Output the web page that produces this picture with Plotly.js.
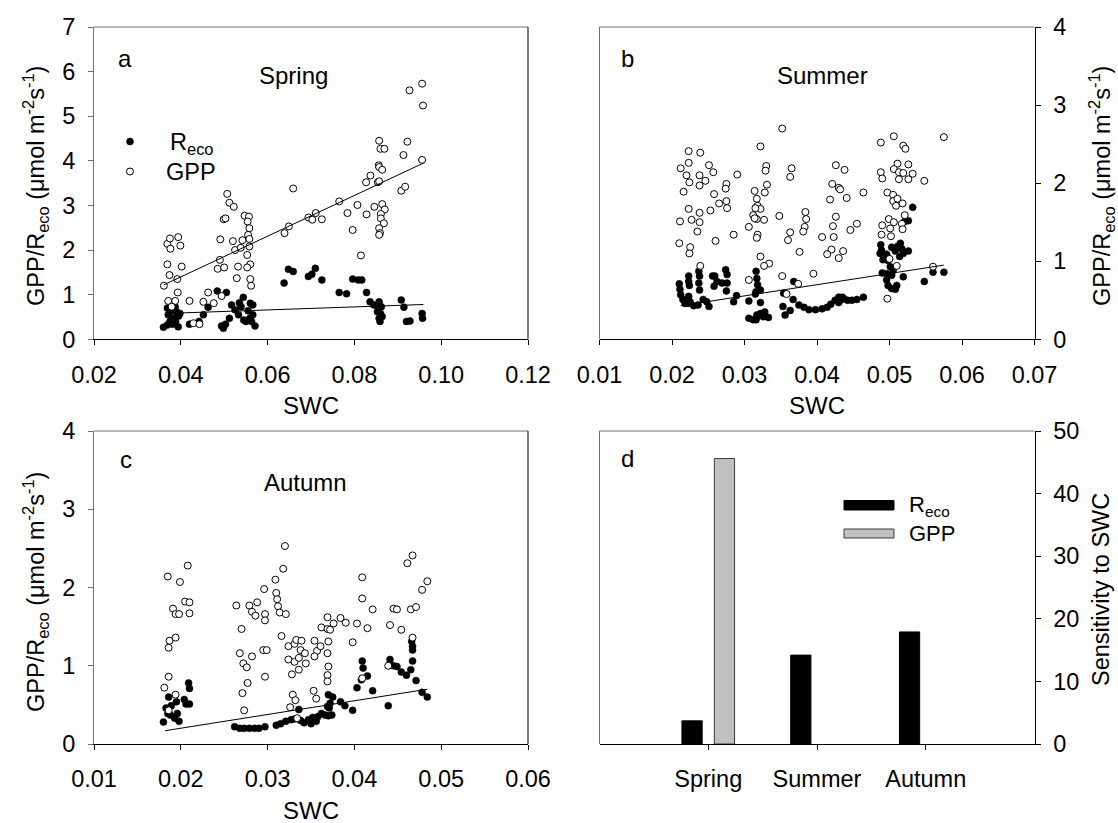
<!DOCTYPE html>
<html>
<head>
<meta charset="utf-8">
<script src="https://cdn.plot.ly/plotly-3.0.1.min.js"></script>
<style>
  html, body { margin: 0; padding: 0; background: #fff; }
  #chart { width: 1118px; height: 823px; }
</style>
</head>
<body>
<div id="chart"></div>
<script>
// ---- Spring (panel a): [SWC, flux] ----
const springGpp = [
  [0.0361,1.20],[0.0369,1.68],[0.0374,1.44],[0.0369,2.14],[0.0375,2.26],[0.0376,2.03],[0.0394,2.29],[0.0399,2.10],
  [0.0392,1.35],[0.0402,1.63],[0.0393,1.05],[0.0371,0.86],[0.0387,0.86],[0.0379,0.73],[0.0420,0.86],[0.0452,0.84],
  [0.0463,1.05],[0.0476,0.81],[0.0429,0.36],[0.0443,0.34],[0.0494,0.97],[0.0490,1.78],[0.0485,1.58],[0.0500,1.61],
  [0.0491,2.24],[0.0507,3.26],[0.0512,3.06],[0.0522,2.97],[0.0499,2.69],[0.0503,2.71],[0.0520,2.20],[0.0525,2.00],
  [0.0532,1.63],[0.0529,1.37],[0.0538,2.05],[0.0542,2.22],[0.0547,2.77],[0.0557,2.75],[0.0554,2.64],[0.0558,2.49],
  [0.0555,2.34],[0.0558,2.25],[0.0558,2.08],[0.0553,1.89],[0.0560,1.68],[0.0553,1.61],[0.0560,1.35],[0.0562,1.20],
  [0.0639,2.38],[0.0649,2.53],[0.0659,3.38],[0.0694,2.73],[0.0703,2.68],[0.0711,2.83],[0.0725,2.69],
  [0.0765,3.09],[0.0784,2.83],[0.0796,2.45],[0.0807,3.01],[0.0815,1.88],[0.0828,2.80],[0.0827,3.52],[0.0837,3.67],
  [0.0846,2.97],[0.0854,3.52],[0.0856,3.90],[0.0857,3.86],[0.0864,3.80],[0.0857,4.45],[0.0860,4.27],[0.0869,4.27],
  [0.0857,3.54],[0.0864,3.03],[0.0870,2.91],[0.0861,2.81],[0.0861,2.71],[0.0868,2.60],[0.0857,2.49],[0.0859,2.38],
  [0.0857,2.34],[0.0908,3.33],[0.0917,3.42],[0.0913,4.13],[0.0922,4.43],[0.0927,5.58],[0.0956,5.73],[0.0958,5.24],
  [0.0956,4.02]
];
const springReco = [
  [0.0360,0.27],[0.0369,0.32],[0.0375,0.40],[0.0383,0.47],[0.0374,0.60],[0.0369,0.70],[0.0379,0.70],[0.0387,0.73],
  [0.0371,0.55],[0.0390,0.62],[0.0398,0.58],[0.0394,0.28],[0.0388,0.40],[0.0381,0.34],[0.0395,0.52],[0.0420,0.34],
  [0.0442,0.40],[0.0452,0.55],[0.0463,0.72],[0.0484,1.08],[0.0505,1.05],[0.0494,0.30],[0.0498,0.25],[0.0503,0.34],
  [0.0512,0.47],[0.0517,0.77],[0.0525,0.66],[0.0533,0.55],[0.0539,0.73],[0.0544,0.94],[0.0535,0.82],[0.0545,0.43],
  [0.0550,0.40],[0.0555,0.64],[0.0560,0.81],[0.0566,0.77],[0.0566,0.55],[0.0563,0.40],[0.0571,0.30],[0.0559,0.47],
  [0.0638,1.26],[0.0648,1.57],[0.0659,1.52],[0.0694,1.41],[0.0702,1.46],[0.0710,1.59],[0.0725,1.33],
  [0.0765,1.05],[0.0782,1.02],[0.0796,1.35],[0.0809,1.33],[0.0817,1.33],[0.0828,1.05],[0.0836,0.84],[0.0845,0.77],
  [0.0857,0.84],[0.0855,0.73],[0.0862,0.73],[0.0853,0.62],[0.0860,0.58],[0.0857,0.47],[0.0864,0.51],[0.0859,0.40],
  [0.0908,0.88],[0.0914,0.72],[0.0920,0.40],[0.0928,0.41],[0.0956,0.58],[0.0957,0.47]
];
const springGppFit = [[0.0361,1.22],[0.0959,3.95]];
const springRecoFit = [[0.0369,0.58],[0.0959,0.78]];

// ---- Summer (panel b) ----
const summerGpp = [
  [0.0223,2.41],[0.0239,2.39],[0.0223,2.26],[0.0212,2.19],[0.0220,2.10],[0.0224,2.01],[0.0216,1.89],[0.0238,2.10],
  [0.0238,1.97],[0.0246,2.03],[0.0251,2.23],[0.0257,2.14],[0.0258,1.86],[0.0275,1.99],[0.0274,1.93],[0.0275,1.77],
  [0.0276,1.68],[0.0265,1.74],[0.0253,1.65],[0.0223,1.67],[0.0211,1.51],[0.0227,1.53],[0.0238,1.62],[0.0238,1.50],
  [0.0235,1.38],[0.0210,1.23],[0.0225,1.18],[0.0224,1.10],[0.0260,1.26],[0.0285,1.34],[0.0290,2.11],[0.0239,0.94],
  [0.0322,2.47],[0.0352,2.70],[0.0330,2.22],[0.0329,2.16],[0.0331,1.98],[0.0328,1.88],[0.0314,1.90],[0.0317,1.80],
  [0.0318,1.71],[0.0322,1.67],[0.0315,1.68],[0.0312,1.59],[0.0317,1.54],[0.0327,1.53],[0.0314,1.55],[0.0306,1.44],
  [0.0318,1.34],[0.0317,1.30],[0.0348,1.58],[0.0365,2.19],[0.0363,2.08],[0.0384,1.63],[0.0385,1.54],[0.0383,1.44],
  [0.0381,1.38],[0.0363,1.37],[0.0360,1.27],[0.0376,1.12],[0.0322,1.06],[0.0334,0.97],[0.0327,0.94],[0.0306,0.76],
  [0.0352,0.81],[0.0374,0.71],[0.0395,0.84],[0.0407,1.31],[0.0358,0.58],[0.0426,2.23],[0.0421,1.99],[0.0430,1.94],
  [0.0418,1.79],[0.0426,1.57],[0.0422,1.45],[0.0423,1.31],[0.0420,1.15],[0.0414,1.09],[0.0430,1.04],
  [0.0438,2.17],[0.0432,1.92],[0.0441,1.81],[0.0436,1.13],[0.0446,1.40],[0.0455,1.48],[0.0464,1.88],[0.0488,2.52],
  [0.0488,2.14],[0.0490,2.06],[0.0506,2.60],[0.0519,2.48],[0.0522,2.44],[0.0511,2.25],[0.0526,2.24],[0.0506,2.18],
  [0.0513,2.14],[0.0519,2.13],[0.0532,2.12],[0.0513,2.05],[0.0526,2.05],[0.0548,2.03],[0.0575,2.59],[0.0497,1.88],
  [0.0505,1.85],[0.0505,1.77],[0.0511,1.80],[0.0509,1.71],[0.0518,1.74],[0.0521,1.59],[0.0499,1.54],[0.0490,1.46],
  [0.0501,1.42],[0.0506,1.50],[0.0517,1.48],[0.0518,1.41],[0.0489,1.34],[0.0502,1.32],[0.0510,0.94],[0.0500,1.03],
  [0.0560,0.93],[0.0497,0.52]
];
const summerReco = [
  [0.0210,0.71],[0.0211,0.64],[0.0212,0.57],[0.0215,0.51],[0.0218,0.46],[0.0222,0.46],[0.0225,0.48],[0.0230,0.43],
  [0.0236,0.44],[0.0223,0.81],[0.0223,0.74],[0.0224,0.69],[0.0223,0.55],[0.0237,0.87],[0.0238,0.81],[0.0237,0.72],
  [0.0238,0.63],[0.0243,0.51],[0.0248,0.48],[0.0251,0.42],[0.0256,0.81],[0.0259,0.81],[0.0258,0.68],[0.0262,0.74],
  [0.0274,0.89],[0.0276,0.83],[0.0276,0.72],[0.0275,0.62],[0.0269,0.72],[0.0285,0.48],[0.0289,0.56],[0.0306,0.49],
  [0.0316,0.87],[0.0317,0.78],[0.0318,0.70],[0.0316,0.61],[0.0322,0.63],[0.0315,0.58],[0.0322,0.47],[0.0306,0.27],
  [0.0312,0.25],[0.0316,0.25],[0.0319,0.30],[0.0322,0.33],[0.0326,0.29],[0.0333,0.28],[0.0317,0.31],[0.0328,0.35],
  [0.0354,0.59],[0.0353,0.42],[0.0356,0.31],[0.0363,0.37],[0.0367,0.51],[0.0368,0.74],[0.0375,0.44],[0.0382,0.41],
  [0.0389,0.38],[0.0398,0.38],[0.0407,0.39],[0.0414,0.41],[0.0419,0.45],[0.0425,0.50],[0.0430,0.54],
  [0.0432,0.50],[0.0437,0.52],[0.0442,0.50],[0.0448,0.50],[0.0455,0.51],[0.0464,0.54],[0.0430,0.47],[0.0435,0.54],
  [0.0488,1.21],[0.0489,1.14],[0.0487,1.10],[0.0491,1.02],[0.0496,1.09],[0.0498,1.01],[0.0490,0.85],[0.0496,0.84],
  [0.0501,0.93],[0.0503,0.82],[0.0496,0.76],[0.0498,0.69],[0.0503,0.65],[0.0508,0.64],[0.0510,0.69],[0.0503,1.18],
  [0.0508,1.13],[0.0511,1.19],[0.0515,1.23],[0.0517,1.16],[0.0519,1.10],[0.0514,1.06],[0.0526,1.13],[0.0521,1.51],
  [0.0526,1.52],[0.0532,1.69],[0.0519,0.80],[0.0505,0.88],[0.0548,0.74],[0.0560,0.86],[0.0575,0.86]
];
const summerRecoFit = [[0.0212,0.43],[0.0575,0.95]];

// ---- Autumn (panel c) ----
const autumnGpp = [
  [0.0185,2.14],[0.0199,2.07],[0.0208,2.28],[0.0191,1.73],[0.0194,1.66],[0.0198,1.66],[0.0205,1.82],[0.0210,1.81],
  [0.0210,1.67],[0.0187,1.32],[0.0186,1.23],[0.0194,1.36],[0.0186,0.86],[0.0181,0.72],[0.0194,0.63],[0.0186,0.43],
  [0.0264,1.77],[0.0270,1.47],[0.0279,1.77],[0.0282,1.69],[0.0288,1.81],[0.0286,1.64],[0.0296,1.98],[0.0297,1.66],
  [0.0297,1.58],[0.0309,2.10],[0.0310,1.93],[0.0311,1.85],[0.0312,1.76],[0.0314,1.68],[0.0321,1.66],[0.0318,2.24],
  [0.0320,2.53],[0.0268,1.16],[0.0272,1.03],[0.0276,0.98],[0.0282,1.12],[0.0295,1.20],[0.0299,1.20],[0.0297,0.86],
  [0.0277,0.78],[0.0271,0.65],[0.0273,0.43],[0.0316,1.38],[0.0324,1.25],[0.0331,1.28],[0.0333,1.33],[0.0339,1.32],
  [0.0324,1.08],[0.0331,1.05],[0.0336,1.10],[0.0338,1.20],[0.0343,1.16],[0.0344,1.03],[0.0336,0.95],[0.0328,0.89],
  [0.0329,0.63],[0.0332,0.56],[0.0326,0.47],[0.0354,1.32],[0.0357,1.19],[0.0354,1.12],[0.0362,1.49],[0.0361,1.25],
  [0.0369,1.62],[0.0369,1.47],[0.0370,1.31],[0.0369,1.16],[0.0370,0.99],[0.0369,0.88],[0.0369,0.80],[0.0353,0.68],
  [0.0356,0.58],
  [0.0409,2.13],[0.0409,1.86],[0.0421,1.72],[0.0403,1.54],[0.0415,1.48],[0.0398,1.30],[0.0384,1.61],[0.0390,1.55],
  [0.0376,1.54],[0.0372,1.46],[0.0441,1.52],[0.0445,1.73],[0.0449,1.72],[0.0454,1.46],[0.0461,2.31],[0.0467,2.41],
  [0.0465,1.72],[0.0471,1.75],[0.0478,1.97],[0.0484,2.08],[0.0467,1.36],[0.0439,1.00],[0.0409,0.84],[0.0334,0.33]
];
const autumnReco = [
  [0.0180,0.28],[0.0186,0.60],[0.0183,0.46],[0.0189,0.49],[0.0188,0.37],[0.0193,0.33],[0.0196,0.39],[0.0198,0.29],
  [0.0195,0.54],[0.0204,0.57],[0.0206,0.51],[0.0210,0.51],[0.0209,0.78],[0.0210,0.71],[0.0185,0.39],
  [0.0262,0.22],[0.0268,0.20],[0.0273,0.20],[0.0279,0.20],[0.0285,0.20],[0.0290,0.20],[0.0297,0.22],[0.0310,0.24],
  [0.0315,0.26],[0.0321,0.29],[0.0327,0.31],[0.0331,0.32],[0.0336,0.44],[0.0338,0.30],[0.0342,0.27],[0.0347,0.31],
  [0.0350,0.26],[0.0352,0.34],[0.0356,0.29],[0.0358,0.35],[0.0362,0.39],[0.0366,0.37],[0.0369,0.48],[0.0370,0.63],
  [0.0370,0.36],[0.0374,0.37],[0.0371,0.46],[0.0372,0.52],[0.0375,0.60],[0.0384,0.54],[0.0389,0.49],[0.0398,0.43],
  [0.0403,0.72],[0.0409,1.06],[0.0410,0.97],[0.0408,0.82],[0.0415,0.87],[0.0421,0.68],[0.0439,0.49],[0.0441,1.08],
  [0.0445,1.00],[0.0449,0.99],[0.0454,0.92],[0.0460,0.88],[0.0465,0.95],[0.0467,1.06],[0.0467,1.20],[0.0467,1.25],
  [0.0466,1.31],[0.0471,0.81],[0.0478,0.66],[0.0484,0.60]
];
const autumnRecoFit = [[0.0182,0.17],[0.0484,0.70]];

// ---- Sensitivity to SWC (panel d) ----
const seasons = ['Spring', 'Summer', 'Autumn'];
const recoSensitivity = [3.7, 14.2, 17.9];
const gppSensitivity = [45.6, null, null];

// ---- Tick values ----
const springSwcTicks = [0.02, 0.04, 0.06, 0.08, 0.10, 0.12];
const summerSwcTicks = [0.01, 0.02, 0.03, 0.04, 0.05, 0.06, 0.07];
const autumnSwcTicks = [0.01, 0.02, 0.03, 0.04, 0.05, 0.06];
const fluxTicks7 = [0, 1, 2, 3, 4, 5, 6, 7];
const fluxTicks4 = [0, 1, 2, 3, 4];
const sensTicks = [0, 10, 20, 30, 40, 50];

// ---- page geometry helpers ----
const W = 1118, H = 823;
const px = x => x / W;
const py = y => 1 - y / H;
const colLeft = [px(94), px(528)];
const colRight = [px(599.5), px(1034.5)];
const rowTop = [py(339.3), py(27)];
const rowBottom = [py(744), py(431)];

const FONT = 'Liberation Sans, Arial, Helvetica, sans-serif';
const frameGray = '#707070';
const xs = pts => pts.map(p => p[0]);
const ys = pts => pts.map(p => p[1]);

function recoTrace(pts, xa, ya) {
  return { type: 'scatter', mode: 'markers', x: xs(pts), y: ys(pts), xaxis: xa, yaxis: ya,
    marker: { symbol: 'circle', size: 7, color: '#000', line: { color: '#000', width: 0.5 } },
    showlegend: false, hoverinfo: 'skip' };
}
function gppTrace(pts, xa, ya) {
  return { type: 'scatter', mode: 'markers', x: xs(pts), y: ys(pts), xaxis: xa, yaxis: ya,
    marker: { symbol: 'circle', size: 7, color: '#fff', line: { color: '#000', width: 1 } },
    showlegend: false, hoverinfo: 'skip' };
}
function fitTrace(pts, xa, ya) {
  return { type: 'scatter', mode: 'lines', x: xs(pts), y: ys(pts), xaxis: xa, yaxis: ya,
    line: { color: '#000', width: 1 }, showlegend: false, hoverinfo: 'skip' };
}

const data = [
  recoTrace(springReco, 'x', 'y'), gppTrace(springGpp, 'x', 'y'),
  fitTrace(springGppFit, 'x', 'y'), fitTrace(springRecoFit, 'x', 'y'),
  recoTrace(summerReco, 'x2', 'y2'), gppTrace(summerGpp, 'x2', 'y2'),
  fitTrace(summerRecoFit, 'x2', 'y2'),
  recoTrace(autumnReco, 'x3', 'y3'), gppTrace(autumnGpp, 'x3', 'y3'),
  fitTrace(autumnRecoFit, 'x3', 'y3'),
  { type: 'bar', x: seasons, y: recoSensitivity, xaxis: 'x4', yaxis: 'y4',
    width: 0.186, offset: -0.242,
    marker: { color: '#000', line: { color: '#000', width: 1 } }, showlegend: false, hoverinfo: 'skip' },
  { type: 'bar', x: seasons, y: gppSensitivity, xaxis: 'x4', yaxis: 'y4',
    width: 0.186, offset: 0.056,
    marker: { color: '#c0c0c0', line: { color: '#3a3a3a', width: 1 } }, showlegend: false, hoverinfo: 'skip' }
];

const tickFont = { family: FONT, size: 23.5, color: '#000' };

function xAxis(domain, anchor, range, tickvals, fmt) {
  return { domain, anchor, range, tickmode: 'array', tickvals,
    ticktext: tickvals.map(v => v.toFixed(fmt)),
    showgrid: false, zeroline: false, showline: true, linecolor: '#000', linewidth: 1,
    ticks: 'outside', ticklen: 5, tickcolor: '#000', tickwidth: 1,
    tickfont: tickFont, ticklabelstandoff: 9, fixedrange: true };
}
function yAxis(domain, anchor, range, tickvals, side) {
  const right = side === 'right';
  return { domain, anchor, range, side, tickmode: 'array', tickvals,
    showgrid: false, zeroline: false, showline: true,
    linecolor: right ? '#000' : frameGray, linewidth: 1,
    ticks: 'outside', ticklen: 5, tickcolor: right ? '#000' : frameGray, tickwidth: 1,
    tickfont: tickFont, ticklabelstandoff: 8, fixedrange: true };
}

// plain frame lines on the sides that carry no axis
function frameLine(xref, yref, x0, y0, x1, y1, color) {
  return { type: 'line', xref: xref + ' domain', yref: yref + ' domain', x0, y0, x1, y1,
    line: { color, width: 1 }, layer: 'above' };
}

const shapes = [
  frameLine('x', 'y', 0, 1, 1, 1, frameGray), frameLine('x', 'y', 1, 0, 1, 1, '#000'),
  frameLine('x2', 'y2', 0, 1, 1, 1, frameGray), frameLine('x2', 'y2', 0, 0, 0, 1, frameGray),
  frameLine('x3', 'y3', 0, 1, 1, 1, frameGray), frameLine('x3', 'y3', 1, 0, 1, 1, '#000'),
  frameLine('x4', 'y4', 0, 1, 1, 1, frameGray), frameLine('x4', 'y4', 0, 0, 0, 1, frameGray),
  // panel a key symbols
  { type: 'circle', xref: 'paper', yref: 'paper', xsizemode: 'pixel', ysizemode: 'pixel',
    xanchor: px(130), yanchor: py(141.5), x0: -3.5, x1: 3.5, y0: -3.5, y1: 3.5,
    fillcolor: '#000', line: { color: '#000', width: 0.5 } },
  { type: 'circle', xref: 'paper', yref: 'paper', xsizemode: 'pixel', ysizemode: 'pixel',
    xanchor: px(130), yanchor: py(171.5), x0: -3.5, x1: 3.5, y0: -3.5, y1: 3.5,
    fillcolor: '#fff', line: { color: '#000', width: 1 } },
  // panel d key swatches
  { type: 'rect', xref: 'paper', yref: 'paper', x0: px(844), x1: px(894), y0: py(510), y1: py(500.5),
    fillcolor: '#000', line: { color: '#000', width: 1 } },
  { type: 'rect', xref: 'paper', yref: 'paper', x0: px(844), x1: px(894), y0: py(538), y1: py(529),
    fillcolor: '#c0c0c0', line: { color: '#3a3a3a', width: 1 } }
];

const fluxTitle = 'GPP/R<sub>eco</sub> (\u03bcmol m<sup>-2</sup>s<sup>-1</sup>)';
function label(text, x, y, size, opts) {
  return Object.assign({ text, xref: 'paper', yref: 'paper', x: px(x), y: py(y),
    xanchor: 'center', yanchor: 'middle', showarrow: false,
    font: { family: FONT, size, color: '#000' } }, opts || {});
}

const annotations = [
  label('a', 125, 59, 24), label('Spring', 293, 75, 24),
  label('b', 627, 59, 24), label('Summer', 822, 75, 24),
  label('c', 126, 459, 24), label('Autumn', 305, 482, 24),
  label('d', 627, 458, 24),
  label('R<sub>eco</sub>', 168, 143, 23.5, { xanchor: 'left' }),
  label('GPP', 164, 172, 23.5, { xanchor: 'left' }),
  label('R<sub>eco</sub>', 907, 506, 22, { xanchor: 'left' }),
  label('GPP', 907, 533, 22, { xanchor: 'left' }),
  label('SWC', 311, 405, 24), label('SWC', 817, 405, 24), label('SWC', 311, 810, 24),
  label(fluxTitle, 35, 186, 23.5, { textangle: -90 }),
  label(fluxTitle, 35, 592, 23.5, { textangle: -90 }),
  label(fluxTitle, 1101, 186, 23.5, { textangle: -90 }),
  label('Sensitivity to SWC', 1101, 590, 23.5, { textangle: -90 })
];

const layout = {
  width: W, height: H,
  margin: { l: 0, r: 0, t: 0, b: 0 },
  paper_bgcolor: '#fff', plot_bgcolor: '#fff',
  showlegend: false, barmode: 'overlay',
  font: { family: FONT, size: 23.5, color: '#000' },
  xaxis: xAxis(colLeft, 'y', [0.02, 0.12], springSwcTicks, 2),
  yaxis: yAxis(rowTop, 'x', [0, 7], fluxTicks7, 'left'),
  xaxis2: xAxis(colRight, 'y2', [0.01, 0.07], summerSwcTicks, 2),
  yaxis2: yAxis(rowTop, 'x2', [0, 4], fluxTicks4, 'right'),
  xaxis3: xAxis(colLeft, 'y3', [0.01, 0.06], autumnSwcTicks, 2),
  yaxis3: yAxis(rowBottom, 'x3', [0, 4], fluxTicks4, 'left'),
  xaxis4: { domain: colRight, anchor: 'y4', type: 'category', categoryorder: 'array',
    categoryarray: seasons, range: [-1, 3], showgrid: false, zeroline: false,
    showline: true, linecolor: '#000', linewidth: 1, ticks: 'outside', ticklen: 5,
    tickcolor: '#000', tickfont: tickFont, ticklabelstandoff: 9, fixedrange: true },
  yaxis4: yAxis(rowBottom, 'x4', [0, 50], sensTicks, 'right'),
  shapes, annotations
};

Plotly.newPlot('chart', data, layout, { staticPlot: true, displayModeBar: false });
</script>
</body>
</html>
